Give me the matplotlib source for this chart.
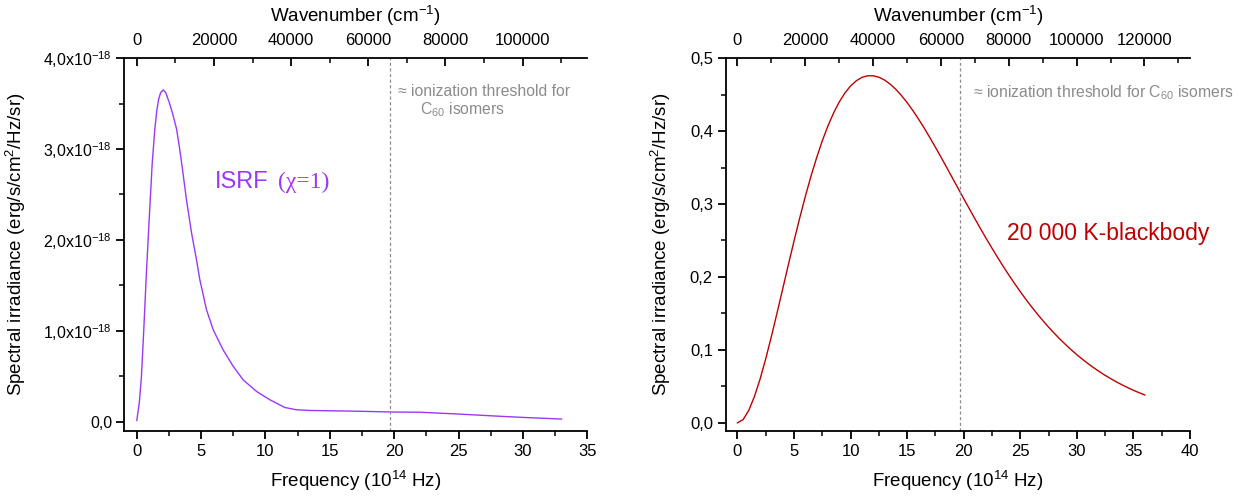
import matplotlib
matplotlib.use("Agg")
from matplotlib import pyplot as plt
from matplotlib.ticker import MultipleLocator, FuncFormatter

plt.rcParams['font.family'] = ['Liberation Sans', 'DejaVu Sans']
plt.rcParams['mathtext.fontset'] = 'custom'
plt.rcParams['mathtext.rm'] = 'Liberation Sans'
plt.rcParams['mathtext.it'] = 'Liberation Sans:italic'
plt.rcParams['mathtext.bf'] = 'Liberation Sans:bold'

# ISRF (chi=1), frequency in 1e14 Hz, irradiance in 1e-18 erg/s/cm2/Hz/sr
isrf_freq = [0, 0.2, 0.36, 0.54, 0.75, 1.0, 1.2, 1.4, 1.55, 1.7, 1.85, 2.05, 2.25,
             2.55, 2.8, 3.09, 3.3, 3.5, 3.86, 4.25, 4.64, 4.9, 5.42, 5.94, 6.71,
             7.49, 8.27, 9.31, 10.34, 11.5, 12.4, 13.5, 15, 17.5, 20, 22, 25, 28,
             30, 33]
isrf_val = [0.015, 0.22, 0.50, 1.01, 1.65, 2.33, 2.85, 3.22, 3.42, 3.55, 3.62, 3.65,
            3.62, 3.50, 3.38, 3.22, 3.03, 2.83, 2.44, 2.08, 1.78, 1.56, 1.23, 1.01,
            0.79, 0.61, 0.46, 0.333, 0.242, 0.157, 0.132, 0.124, 0.121, 0.115,
            0.107, 0.105, 0.085, 0.062, 0.048, 0.030]

# 20 000 K blackbody (normalised), every 0.5e14 Hz
bb_freq = [i * 0.5 for i in range(73)]
bb_val = [0.0, 0.0045, 0.0171, 0.0361, 0.0601, 0.0880, 0.1186, 0.1508, 0.1838,
          0.2169, 0.2494, 0.2808, 0.3105, 0.3383, 0.3637, 0.3868, 0.4072, 0.4250,
          0.4400, 0.4523, 0.4619, 0.4689, 0.4736, 0.4758, 0.4758, 0.4738, 0.4699,
          0.4643, 0.4571, 0.4486, 0.4389, 0.4282, 0.4165, 0.4042, 0.3911, 0.3777,
          0.3639, 0.3499, 0.3357, 0.3215, 0.3073, 0.2933, 0.2794, 0.2657, 0.2523,
          0.2393, 0.2266, 0.2142, 0.2023, 0.1908, 0.1798, 0.1691, 0.1590, 0.1493,
          0.1400, 0.1312, 0.1228, 0.1148, 0.1073, 0.1001, 0.0934, 0.0870, 0.0810,
          0.0754, 0.0701, 0.0651, 0.0605, 0.0561, 0.0520, 0.0482, 0.0446, 0.0413,
          0.0382]

threshold = 19.65
cm_per_unit = 3335.6   # 1e14 Hz -> cm^-1

left_xticks = [0, 5, 10, 15, 20, 25, 30, 35]
left_yticks = [0, 1, 2, 3, 4]
left_top_ticks = [0, 20000, 40000, 60000, 80000, 100000]
right_xticks = [0, 5, 10, 15, 20, 25, 30, 35, 40]
right_yticks = [0, 0.1, 0.2, 0.3, 0.4, 0.5]
right_top_ticks = [0, 20000, 40000, 60000, 80000, 100000, 120000]

isrf_color = '#9b38f5'
bb_color = '#c00000'
gray = '#8c8c8c'

fig = plt.figure(figsize=(12.52, 5.01), dpi=100)
ax1 = fig.add_axes([0.099, 0.140, 0.370, 0.744])
ax2 = fig.add_axes([0.580, 0.140, 0.3705, 0.744])


def sci_fmt(v, pos):
    m = v / 1e-18
    if abs(m) < 1e-6:
        return '0,0'
    return ('%.1f' % m).replace('.', ',') + 'x10$^{-18}$'


def dec_fmt(v, pos):
    return ('%.1f' % v).replace('.', ',')


def style(ax, xlim, ylim, xticks, yticks, ymin_step, top_ticks):
    ax.set_xlim(xlim)
    ax.set_ylim(ylim)
    ax.set_xticks(xticks)
    ax.set_yticks(yticks)
    ax.xaxis.set_minor_locator(MultipleLocator(2.5))
    ax.yaxis.set_minor_locator(MultipleLocator(ymin_step))
    ax.spines['right'].set_visible(False)
    ax.spines['top'].set_visible(False)
    for s in ('left', 'bottom'):
        ax.spines[s].set_linewidth(1.3)
    ax.tick_params(which='major', direction='out', length=6, width=1.3, labelsize=12)
    ax.tick_params(which='minor', direction='out', length=3.5, width=1.1)
    ax.set_xlabel('Frequency (10$^{14}$ Hz)', fontsize=13.5, labelpad=7)
    ax.set_ylabel('Spectral irradiance (erg/s/cm$^{2}$/Hz/sr)', fontsize=13.5)
    top = ax.twiny()
    top.set_xlim(xlim[0] * cm_per_unit, xlim[1] * cm_per_unit)
    top.set_xticks(top_ticks)
    top.xaxis.set_minor_locator(MultipleLocator(10000))
    top.spines['right'].set_visible(False)
    top.spines['left'].set_visible(False)
    top.spines['bottom'].set_visible(False)
    top.spines['top'].set_linewidth(1.3)
    top.tick_params(which='major', direction='in', length=6, width=1.3, labelsize=12, pad=7)
    top.tick_params(which='minor', direction='in', length=3.5, width=1.1)
    top.set_xlabel('Wavenumber (cm$^{-1}$)', fontsize=13.5, labelpad=8)
    return top


# left panel: ISRF
ax1.plot(isrf_freq, [v * 1e-18 for v in isrf_val], color=isrf_color, lw=1.0)
style(ax1, (-1, 35), (-0.1e-18, 4e-18), left_xticks, [v * 1e-18 for v in left_yticks],
      0.5e-18, left_top_ticks)
ax1.yaxis.set_major_formatter(FuncFormatter(sci_fmt))
ax1.tick_params(axis='y', which='major', labelsize=11.5, pad=2.5)
ax1.axvline(threshold, color=gray, lw=0.9, ls=(0, (2.5, 2)))
ax1.yaxis.set_label_coords(-0.207, 0.5)
ax1.text(20.3, 3.63e-18, '\u2248 ionization threshold for', color=gray, fontsize=11.3, va='center')
ax1.text(22.0, 3.43e-18, 'C$_{60}$ isomers', color=gray, fontsize=11.3, va='center')
t1 = ax1.text(6.07, 2.57e-18, 'ISRF', color=isrf_color, fontsize=17, va='baseline')

# right panel: blackbody
ax2.plot(bb_freq, bb_val, color=bb_color, lw=1.0)
style(ax2, (-1, 40), (-0.011, 0.5), right_xticks, right_yticks, 0.05, right_top_ticks)
ax2.yaxis.set_major_formatter(FuncFormatter(dec_fmt))
ax2.axvline(threshold, color=gray, lw=0.9, ls=(0, (2.5, 2)))
ax2.yaxis.set_label_coords(-0.114, 0.5)
ax2.text(20.8, 0.452, '\u2248 ionization threshold for C$_{60}$ isomers', color=gray,
         fontsize=11.3, va='center')
ax2.text(23.8, 0.26, '20 000 K-blackbody', color=bb_color, fontsize=16.5, va='center')

# "(chi=1)" in a serif face, right after "ISRF"
fig.canvas.draw()
bb = t1.get_window_extent()
x_end = ax1.transData.inverted().transform((bb.x1, bb.y0))[0]
ax1.annotate('(\u03c7=1)', xy=(x_end, 2.57e-18), xytext=(7, 0), textcoords='offset points',
             va='baseline', ha='left', color=isrf_color, fontsize=17,
             family='Liberation Serif')

fig.savefig('out.png', dpi=100)
